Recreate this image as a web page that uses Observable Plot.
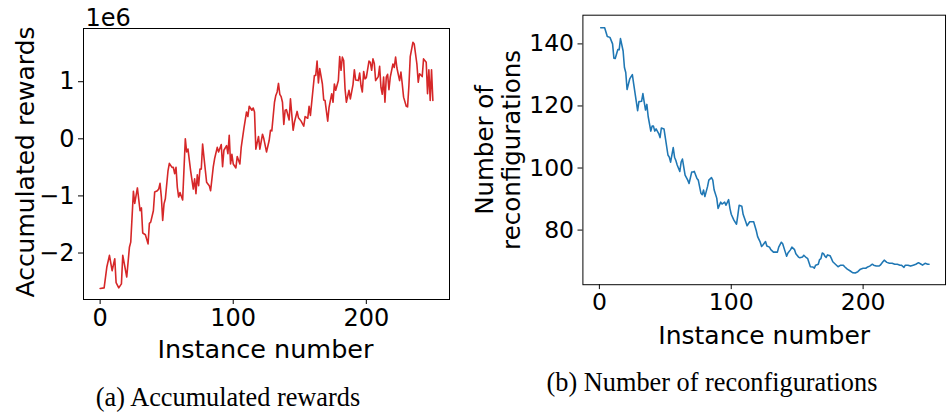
<!DOCTYPE html>
<html>
<head>
<meta charset="utf-8">
<script src="https://cdn.jsdelivr.net/npm/d3@7"></script>
<script src="https://cdn.jsdelivr.net/npm/@observablehq/plot@0.6"></script>
<style>
  html, body { margin: 0; padding: 0; background: #fff; overflow: hidden; }
  #fig { position: relative; width: 947px; height: 414px; overflow: hidden; background: #fff; }
  .panel { position: absolute; top: 0; }
  .caption {
    position: absolute; white-space: nowrap;
    font-family: "Liberation Serif", "Times New Roman", serif;
    font-size: 26.3px; line-height: 26px; color: #000;
    transform: translateX(-50%);
  }
</style>
</head>
<body>
<div id="fig">
  <div id="left" class="panel" style="left:0px"></div>
  <div id="right" class="panel" style="left:455px"></div>
  <div class="caption" style="left:228px; top:385px">(a) Accumulated rewards</div>
  <div class="caption" style="left:712px; top:370px">(b) Number of reconfigurations</div>
</div>
<script>
// Accumulated reward per instance (units of 1e6)
const rewardInstances = [0,3,5,7,9,11,12,14,16,17,20,22,23,25,26,28,30,31,32,34,36,37,38,40,41,43,44,45,46,47,48,49,51,52,54,55,56,57,58,59,60,62,64,65,66,68,70,71,72,73,74,75,76,77,78,80,82,83,85,86,88,89,91,92,93,95,96,97,98,99,100,102,103,105,106,108,110,111,112,114,115,116,117,119,120,122,123,125,127,128,129,131,132,133,134,135,136,137,138,139,140,142,143,145,146,148,149,151,153,154,156,157,158,160,161,162,163,164,165,167,168,169,171,172,174,175,176,177,179,180,181,182,183,184,185,187,188,190,191,192,194,195,196,197,198,199,200,202,203,204,205,206,207,209,210,211,212,213,214,215,216,217,218,220,221,222,223,225,226,227,228,230,231,232,233,235,236,238,239,240,242,243,245,246,247,248,249,250];
const rewardValues = [-2.62,-2.61,-2.25,-2.04,-2.31,-2.10,-2.52,-2.61,-2.54,-2.04,-2.42,-1.90,-1.81,-0.92,-1.13,-0.86,-1.26,-1.21,-1.65,-1.68,-1.84,-1.48,-1.46,-1.26,-0.93,-0.91,-0.88,-0.78,-1.02,-1.43,-1.14,-1.05,-0.56,-0.43,-0.50,-0.50,-0.61,-0.50,-0.85,-1.02,-0.94,-1.07,0.00,-0.23,-0.18,-0.56,-0.88,-0.70,-0.96,-0.63,-0.82,-0.53,-0.53,-0.09,-0.32,-0.76,-0.82,-0.91,-0.49,-0.35,-0.15,-0.23,-0.10,-0.49,-0.20,-0.12,-0.26,0.06,-0.44,-0.27,-0.44,-0.51,-0.31,-0.44,-0.15,0.18,0.47,0.39,0.57,0.50,0.54,0.47,-0.18,0.04,-0.18,0.08,0.00,-0.23,-0.03,0.15,0.14,0.64,0.76,0.82,0.97,0.78,0.74,0.64,0.25,0.50,0.51,0.33,0.70,0.15,0.29,0.48,0.37,0.31,0.22,0.39,0.36,0.57,0.41,0.88,1.11,1.11,1.36,0.98,1.23,0.96,0.68,0.67,0.31,0.55,0.79,0.64,0.96,0.85,1.02,1.44,1.20,1.43,1.37,0.88,0.64,0.85,0.70,0.95,1.21,1.03,1.02,1.15,0.93,0.82,1.18,1.05,1.07,1.36,1.34,1.20,1.40,1.32,1.02,1.09,1.27,0.90,0.78,1.08,0.64,1.08,1.13,0.86,1.08,1.31,1.25,1.43,1.24,1.02,1.17,0.96,0.73,0.57,0.56,0.93,1.44,1.69,1.66,1.31,0.99,1.14,1.09,1.40,1.34,0.79,1.21,0.67,1.21,0.67];

// Number of reconfigurations per instance
const reconfInstances = [1,4,6,8,10,11,12,14,15,16,18,19,20,21,23,25,26,28,29,30,32,33,34,35,36,37,39,40,41,42,43,45,46,47,49,50,52,53,54,56,57,58,59,61,62,63,64,65,67,68,70,71,72,74,75,77,78,79,80,82,83,85,86,87,89,90,92,93,95,96,98,99,100,102,104,105,106,108,109,111,112,114,115,117,119,120,122,123,124,126,127,129,130,132,133,135,136,138,139,141,142,143,145,146,148,149,151,152,154,155,157,158,160,162,163,164,166,167,168,169,170,171,172,173,175,176,177,179,181,183,185,186,188,190,192,194,196,198,200,202,203,205,207,208,210,212,213,215,216,218,220,222,224,226,228,229,231,232,234,236,238,240,242,244,245,247,249,250];
const reconfCounts = [145.2,145.2,142.4,142.1,140.0,135.4,135.3,138.2,138.1,141.7,137.7,132.4,130.8,125.3,128.7,130.1,127.1,121.4,118.5,121.4,121.5,124.0,121.2,118.7,120.5,116.6,111.9,113.5,113.5,111.9,112.6,111.1,109.8,112.9,112.6,109.8,104.2,103.5,101.9,106.6,103.5,102.4,101.0,98.9,101.9,102.9,100.3,97.7,96.1,95.0,98.7,98.7,98.9,96.6,96.1,91.9,91.4,92.9,90.8,94.0,96.1,96.9,96.1,93.0,90.3,87.0,89.0,88.4,89.0,88.0,89.8,87.0,85.1,83.2,81.9,84.8,88.0,87.7,85.1,82.7,81.4,82.7,82.7,82.7,79.8,77.9,76.1,74.7,75.2,76.3,74.9,74.5,73.7,72.9,72.9,72.9,74.5,76.1,75.6,72.9,71.6,72.6,73.7,74.5,73.7,72.4,71.3,71.1,71.3,71.9,71.1,70.8,68.2,68.1,67.7,68.7,69.0,70.5,70.8,72.6,72.4,71.6,71.2,72.0,71.7,70.8,69.8,69.0,68.2,68.7,68.7,68.2,67.4,66.9,66.3,66.2,66.6,67.4,67.7,67.7,68.0,68.4,69.0,68.7,68.4,68.4,68.7,69.8,70.3,69.6,69.3,69.3,69.0,69.0,68.7,68.7,68.0,68.7,68.7,68.4,68.7,69.0,69.5,69.0,68.7,69.3,69.0,69.0];

const xTicks = [0, 100, 200];
const rewardTicks = [-2, -1, 0, 1];
const reconfTicks = [80, 100, 120, 140];

const rewards = rewardInstances.map((i, k) => ({instance: i, value: rewardValues[k]}));
const reconfs = reconfInstances.map((i, k) => ({instance: i, value: reconfCounts[k]}));

const baseStyle = {
  fontFamily: "DejaVu Sans, sans-serif",
  fontSize: "24px",
  color: "#000",
  background: "transparent",
  overflow: "visible"
};
const intFmt = d3.format("d");

const left = Plot.plot({
  width: 460, height: 370,
  marginLeft: 83, marginRight: 11, marginTop: 28, marginBottom: 71,
  style: baseStyle,
  x: {domain: [-12.5, 262.5]},
  y: {domain: [-2.814, 1.932]},
  marks: [
    Plot.line(rewards, {x: "instance", y: "value", stroke: "#d62728", strokeWidth: 1.6}),
    Plot.frame({stroke: "#000", strokeWidth: 1}),
    Plot.axisX({ticks: xTicks, tickFormat: intFmt, tickSize: 5, tickPadding: 4, label: null}),
    Plot.axisY({ticks: rewardTicks, tickFormat: intFmt, tickSize: 5, tickPadding: 4, label: null}),
    Plot.text(["1e6"], {frameAnchor: "top-left", textAnchor: "start", lineAnchor: "bottom", dx: 2, dy: -3}),
    Plot.text(["Instance number"], {frameAnchor: "bottom", lineAnchor: "bottom", fontSize: 25.5, dx: -1, dy: 58}),
    Plot.text(["Accumulated rewards"], {frameAnchor: "left", textAnchor: "middle", rotate: -90, lineAnchor: "bottom", fontSize: 25, dx: -50, dy: -2})
  ]
});
document.getElementById("left").appendChild(left);

const right = Plot.plot({
  width: 502, height: 370,
  marginLeft: 130, marginRight: 2, marginTop: 15, marginBottom: 80,
  style: baseStyle,
  x: {domain: [-12.5, 262.5]},
  y: {domain: [62.4, 149.25]},
  marks: [
    Plot.line(reconfs, {x: "instance", y: "value", stroke: "#1f77b4", strokeWidth: 1.6}),
    Plot.frame({stroke: "#000", strokeWidth: 1}),
    Plot.axisX({ticks: xTicks, tickFormat: intFmt, tickSize: 5, tickPadding: 4, label: null}),
    Plot.axisY({ticks: reconfTicks, tickFormat: intFmt, tickSize: 5, tickPadding: 4, label: null}),
    Plot.text(["Instance number"], {frameAnchor: "bottom", lineAnchor: "bottom", fontSize: 25.5, dy: 61}),
    Plot.text(["Number of\nreconfigurations"], {frameAnchor: "left", textAnchor: "middle", rotate: -90, lineAnchor: "bottom", lineHeight: 1.12, fontSize: 25, dx: -64})
  ]
});
document.getElementById("right").appendChild(right);
</script>
</body>
</html>
